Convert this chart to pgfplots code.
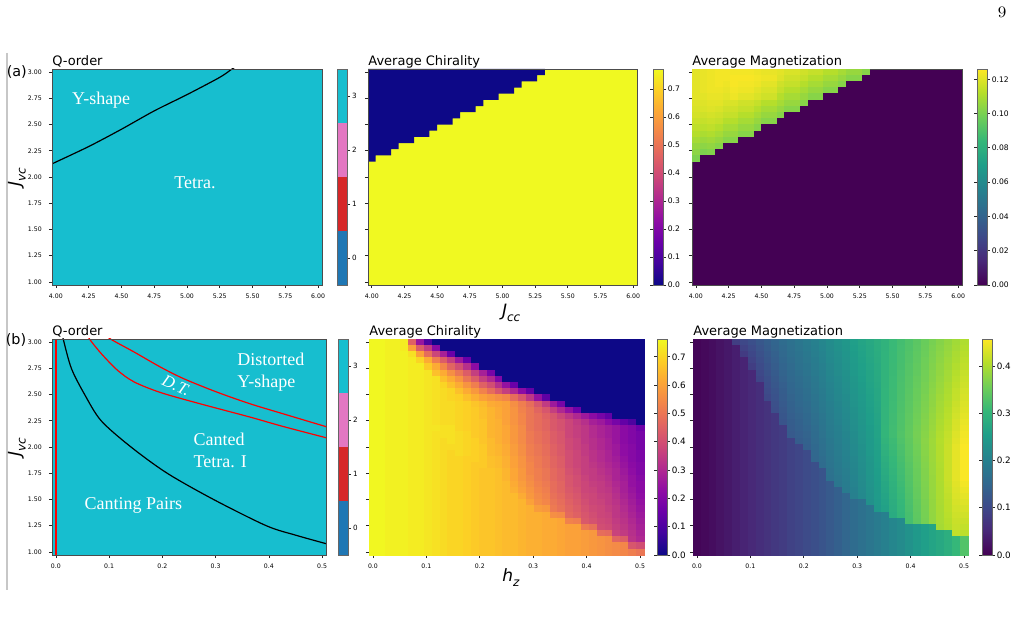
\documentclass[border=0pt]{standalone}
\usepackage{pgfplots}
\pgfplotsset{compat=1.18}
\usepackage{pgfplotstable}
\usepackage{fontspec}
\newfontfamily\dv{DejaVu Sans}
\newfontfamily\tms{Liberation Serif}

% tab10 colours of the four Q-order classes
\definecolor{qblue}{RGB}{31,119,180}
\definecolor{qred}{RGB}{214,39,40}
\definecolor{qpink}{RGB}{227,119,194}
\definecolor{qcyan}{RGB}{23,190,207}
\definecolor{plasmalo}{RGB}{13,8,135}
\definecolor{plasmahi}{RGB}{240,249,33}
\definecolor{viridislo}{RGB}{68,1,84}

% one grid cell of a heat map (half width / half height set per panel)
\newdimen\cellhw
\newdimen\cellhh
\pgfdeclareplotmark{cell}{%
  \pgfpathrectangle{\pgfqpoint{-\cellhw}{-\cellhh}}{\pgfqpoint{2\cellhw}{2\cellhh}}%
  \pgfusepathqfillstroke}

\tikzset{
  dec1/.style={/pgf/number format/.cd, fixed, fixed zerofill, precision=1},
  dec2/.style={/pgf/number format/.cd, fixed, fixed zerofill, precision=2},
  jlabel/.style={font=\dv\itshape\fontsize{8.5}{9.5}\selectfont},
  ann/.style={text=white, font=\tms\fontsize{9}{11.3}\selectfont, inner sep=0pt},
}

\pgfplotsset{
  colormap={mplviridis}{rgb255=(68,1,84) rgb255=(72,40,120) rgb255=(62,73,137) rgb255=(49,104,142) rgb255=(38,130,142) rgb255=(31,158,137) rgb255=(53,183,121) rgb255=(110,206,88) rgb255=(181,222,43) rgb255=(253,231,37)},
  colormap={mplplasma}{rgb255=(13,8,135) rgb255=(65,4,157) rgb255=(106,0,168) rgb255=(143,13,164) rgb255=(177,42,144) rgb255=(204,71,120) rgb255=(225,100,98) rgb255=(242,132,75) rgb255=(252,166,54) rgb255=(252,206,37) rgb255=(240,249,33)},
  panel/.style={
    scale only axis, height=108pt, anchor=south west,
    enlargelimits=false, axis on top,
    axis line style={draw=black!70, line width=0.35pt},
    tick align=outside, major tick length=1.6pt,
    tick style={draw=black!85, line width=0.35pt},
    xtick pos=left, ytick pos=left,
    tick label style={font=\dv\fontsize{3.1}{3.6}\selectfont},
    xticklabel style={yshift=0.6pt},
    /pgf/number format/assume math mode=true,
    every axis title/.style={font=\dv\fontsize{6.5}{7.5}\selectfont, at={(0,1)}, anchor=base west, inner sep=0pt, yshift=1.6pt},
  },
  cbstyle/.style={
    colorbar,
    colorbar style={
      at={(parent axis.north east)}, anchor=north west,
      width=5pt,
      axis line style={draw=black!60, line width=0.3pt},
      tick align=outside, major tick length=1.5pt,
      tick style={draw=black!85, line width=0.35pt},
      /pgf/number format/assume math mode=true,
      yticklabel style={font=\dv\fontsize{#1}{#1}\selectfont, inner sep=0.7pt},
    },
  },
}

% draws a matrix table as cells: table, last column, x of column 0, column step, value scale
\newcommand\cellplot[5]{%
  \pgfplotsinvokeforeach{0,...,#2}{%
    \addplot[scatter, only marks, mark=cell, line width=0.2pt, point meta=explicit,
      scatter/use mapped color={draw=mapped color, fill=mapped color}]
      table[x expr={#3+##1*#4}, y expr={3-\coordindex*2/34}, meta expr={\thisrowno{##1}/#5}] {#1};
  }%
}

% (a) average magnetization, rows from J_vc = 3 downwards, columns J_cc = 4 ... (x1000)
\pgfplotstableread[header=false]{
121 122 123 124 124 124 124 124 123 122 122 121 119 119 117 115 115 112 112 109 106 106 103
121 122 123 124 124 125 125 125 124 123 123 120 117 117 115 112 112 109 109 106 103 103 0
121 122 123 124 123 125 124 124 123 121 121 117 115 115 112 109 109 106 106 103 0 0 0
121 122 123 123 122 124 123 123 121 119 119 115 112 112 109 106 106 103 103 0 0 0 0
121 121 122 122 121 123 121 121 119 117 117 112 109 109 106 103 103 0 0 0 0 0 0
120 120 121 121 119 119 117 117 115 112 112 109 106 106 103 0 0 0 0 0 0 0 0
119 119 120 119 117 117 115 115 112 109 109 106 103 103 0 0 0 0 0 0 0 0 0
118 117 118 117 115 115 112 112 109 106 106 103 0 0 0 0 0 0 0 0 0 0 0
116 115 116 115 112 112 109 109 106 103 103 0 0 0 0 0 0 0 0 0 0 0 0
114 113 114 112 109 109 106 106 103 0 0 0 0 0 0 0 0 0 0 0 0 0 0
112 110 111 109 106 106 103 103 0 0 0 0 0 0 0 0 0 0 0 0 0 0 0
109 107 108 106 103 103 0 0 0 0 0 0 0 0 0 0 0 0 0 0 0 0 0
106 104 105 103 0 0 0 0 0 0 0 0 0 0 0 0 0 0 0 0 0 0 0
104 101 102 0 0 0 0 0 0 0 0 0 0 0 0 0 0 0 0 0 0 0 0
101 0 0 0 0 0 0 0 0 0 0 0 0 0 0 0 0 0 0 0 0 0 0
}\magA

% (b) average chirality, rows J_vc = 3 ... 1, columns h_z = 0 ... 0.5 (x100)
\pgfplotstableread[header=false]{
76 76 75 75 74 45 25 10 0 0 0 0 0 0 0 0 0 0 0 0 0 0 0 0 0 0 0 0 0 0 0 0 0 0 0
76 76 75 75 74 60 44 35 22 0 0 0 0 0 0 0 0 0 0 0 0 0 0 0 0 0 0 0 0 0 0 0 0 0 0
76 76 75 75 75 72 60 48 38 28 15 0 0 0 0 0 0 0 0 0 0 0 0 0 0 0 0 0 0 0 0 0 0 0 0
76 76 75 75 75 74 70 62 52 44 36 26 15 0 0 0 0 0 0 0 0 0 0 0 0 0 0 0 0 0 0 0 0 0 0
76 76 75 75 75 74 74 68 62 54 46 40 32 22 0 0 0 0 0 0 0 0 0 0 0 0 0 0 0 0 0 0 0 0 0
76 76 75 75 75 74 74 73 66 62 56 50 44 36 28 18 0 0 0 0 0 0 0 0 0 0 0 0 0 0 0 0 0 0 0
76 76 75 75 75 74 74 73 72 66 62 57 50 44 36 30 20 0 0 0 0 0 0 0 0 0 0 0 0 0 0 0 0 0 0
76 76 75 75 75 74 74 73 72 70 66 62 57 52 45 40 32 24 15 0 0 0 0 0 0 0 0 0 0 0 0 0 0 0 0
76 76 75 75 75 74 74 73 72 71 70 66 62 58 53 48 42 36 30 22 14 0 0 0 0 0 0 0 0 0 0 0 0 0 0
76 76 75 75 75 74 74 73 72 71 70 69 66 63 60 58 56 54 48 42 34 24 13 0 0 0 0 0 0 0 0 0 0 0 0
76 76 75 75 75 74 74 73 72 71 71 70 69 67 65 62 61 60 56 52 48 42 35 26 18 0 0 0 0 0 0 0 0 0 0
76 76 75 75 75 74 74 73 72 71 71 70 69 68 66 64 62 60 57 53 50 46 42 36 30 24 16 0 0 0 0 0 0 0 0
76 76 75 75 75 74 74 73 72 71 71 70 69 68 66 64 62 60 57 54 50 48 45 42 38 34 30 26 22 18 14 0 0 0 0
76 76 75 75 75 74 74 73 72 71 71 70 69 68 67 64 63 60 57 54 50 48 46 43 41 38 35 32 28 26 22 18 14 10 0
76 76 75 75 75 74 74 73 73 72 72 70 69 68 67 64 63 61 58 55 50 48 46 43 41 38 36 34 31 29 27 25 22 20 16
76 76 75 75 75 74 74 73 72 72 72 71 70 68 67 64 63 61 58 55 51 49 47 44 42 38 36 34 31 29 27 25 22 20 18
76 76 75 75 75 74 74 73 72 71 72 71 70 69 67 65 63 61 58 55 51 49 47 44 42 39 37 34 32 30 28 25 22 20 18
76 76 75 75 75 74 74 73 72 71 71 71 70 69 68 65 64 62 59 56 52 50 48 45 43 39 37 35 32 30 28 26 23 21 18
76 76 75 75 75 74 74 73 72 71 70 71 70 69 68 65 64 62 59 56 52 50 48 45 43 40 38 35 33 31 29 26 23 21 19
76 76 75 75 75 74 74 73 72 71 70 70 69 69 68 66 65 63 60 57 53 51 49 46 44 40 38 36 33 31 29 27 24 21 19
76 76 75 75 75 74 74 73 72 71 70 70 69 68 68 66 65 63 60 57 54 51 49 46 44 40 38 36 34 32 30 28 25 22 20
76 76 75 75 75 74 74 73 72 71 70 70 69 68 67 67 66 64 61 58 54 52 50 47 45 41 39 36 35 33 31 29 26 23 20
76 76 75 75 75 74 74 73 72 71 70 70 69 68 67 67 66 64 61 58 55 52 50 47 45 42 40 37 35 34 32 29 27 24 21
76 76 75 75 75 74 74 73 72 71 70 70 69 68 67 67 66 65 62 59 56 53 51 48 46 42 40 38 36 35 33 30 28 24 22
76 76 75 75 75 74 74 73 72 71 70 70 69 68 67 67 66 65 63 60 57 54 52 48 46 43 41 38 37 35 34 31 28 25 22
76 76 75 75 75 74 74 73 72 71 70 70 69 68 67 67 66 65 65 62 58 55 53 49 47 44 42 39 38 36 35 32 29 26 23
76 76 75 75 75 74 74 73 72 71 70 70 69 68 67 67 66 65 65 64 60 56 54 50 48 45 43 40 38 37 35 33 30 27 24
76 76 75 75 75 74 74 73 72 71 70 70 69 68 67 67 66 65 65 64 63 59 58 51 49 46 44 41 39 38 36 34 31 28 25
76 76 75 75 75 74 74 73 72 71 70 70 69 68 67 67 66 65 65 64 63 63 62 56 55 47 45 42 40 38 37 34 32 29 26
76 76 75 75 75 74 74 73 72 71 70 70 69 68 67 67 66 65 65 64 63 63 62 62 61 53 52 43 41 39 38 35 33 30 27
76 76 75 75 75 74 74 73 72 71 70 70 69 68 67 67 66 65 65 64 63 63 62 62 61 60 60 51 49 40 39 36 34 31 28
76 76 75 75 75 74 74 73 72 71 70 70 69 68 67 67 66 65 65 64 63 63 62 62 61 60 60 59 58 48 47 37 35 32 29
76 76 75 75 75 74 74 73 72 71 70 70 69 68 67 67 66 65 65 64 63 63 62 62 61 60 60 59 58 57 56 46 44 33 30
76 76 75 75 75 74 74 73 72 71 70 70 69 68 67 67 66 65 65 64 63 63 62 62 61 60 60 59 58 57 56 55 54 42 40
76 76 75 75 75 74 74 73 72 71 70 70 69 68 67 67 66 65 65 64 63 63 62 62 61 60 60 59 58 57 56 55 54 52 50
}\chirB

% (b) average magnetization, same grid (x1000)
\pgfplotstableread[header=false]{
5 10 16 23 30 85 100 112 124 136 148 160 170 180 190 200 210 222 232 242 255 265 275 285 295 308 318 328 338 350 362 372 382 392 402
5 10 16 23 30 38 90 105 119 132 145 157 167 177 187 197 208 220 230 240 253 263 273 284 295 308 319 329 339 352 364 374 384 395 405
5 10 16 23 30 38 80 99 114 128 141 154 165 174 184 195 205 217 227 238 251 261 272 282 296 309 320 330 341 353 366 376 386 398 408
5 10 16 23 30 38 45 92 110 124 138 151 162 172 181 192 203 215 225 235 248 259 270 281 296 309 320 331 342 355 367 378 389 400 411
5 10 16 23 30 38 45 85 105 120 134 148 159 169 178 189 200 213 223 233 246 257 268 279 296 310 321 333 344 356 369 380 391 403 414
5 10 16 23 30 38 45 52 100 116 131 145 157 166 175 187 198 210 221 231 244 255 266 278 297 310 322 334 345 358 371 382 393 406 418
5 10 16 23 30 38 45 52 95 112 127 142 154 163 172 184 195 208 218 229 242 253 265 276 297 311 323 335 347 359 372 384 395 409 421
5 10 16 23 30 38 45 52 60 108 124 138 151 160 169 182 193 205 216 227 240 251 263 275 297 311 324 336 348 361 374 386 398 412 424
5 10 16 23 30 38 45 52 60 104 120 135 149 157 166 179 190 203 214 225 237 249 261 273 298 312 324 337 350 362 376 388 400 415 427
5 10 16 23 30 38 45 52 60 100 117 132 146 155 164 176 188 201 212 222 235 247 259 272 298 312 325 338 351 364 378 391 402 417 430
5 10 16 23 30 38 45 52 60 67 113 129 143 152 161 174 185 198 209 220 233 245 258 270 298 313 326 339 353 366 379 393 404 420 433
5 10 16 23 30 38 45 52 60 67 110 126 141 149 158 171 183 196 207 218 231 243 256 269 299 313 327 340 354 367 381 395 407 423 436
5 10 16 23 30 38 45 52 60 67 75 123 138 146 155 168 180 194 205 216 229 241 254 267 299 314 328 342 356 369 383 397 409 426 439
5 10 16 23 30 38 45 52 60 67 75 120 135 143 152 166 178 191 203 214 226 239 253 266 299 314 328 343 357 370 385 399 411 429 443
5 10 16 23 30 38 45 52 60 67 75 82 133 141 149 163 175 189 200 212 224 237 251 264 300 315 329 344 359 372 386 401 413 431 446
5 10 16 23 30 38 45 52 60 67 75 82 130 138 146 161 173 187 198 209 222 235 249 263 300 315 330 345 360 373 388 403 416 434 449
5 10 16 23 30 38 45 52 60 67 75 82 90 135 143 158 170 184 196 207 220 233 247 261 297 312 328 343 359 375 390 405 418 437 452
5 10 16 23 30 38 45 52 60 67 75 82 90 97 140 155 168 182 194 205 218 231 246 260 293 310 325 341 357 374 389 404 420 440 455
5 10 16 23 30 38 45 52 60 67 75 82 90 97 105 153 165 179 191 203 215 229 244 258 290 307 323 340 356 373 388 404 420 440 455
5 10 16 23 30 38 45 52 60 67 75 82 90 97 105 150 163 177 189 201 213 227 242 257 287 304 321 338 354 372 388 403 420 440 455
5 10 16 23 30 38 45 52 60 67 75 82 90 97 105 112 160 175 187 199 211 225 240 255 283 302 318 336 353 370 387 402 420 440 455
5 10 16 23 30 38 45 52 60 67 75 82 90 97 105 112 120 172 185 196 209 223 239 254 280 299 316 334 351 369 386 401 420 440 455
5 10 16 23 30 38 45 52 60 67 75 82 90 97 105 112 120 170 182 194 207 221 237 252 277 296 314 332 350 368 385 401 420 440 455
5 10 16 23 30 38 45 52 60 67 75 82 90 97 105 112 120 130 180 192 204 219 235 251 273 293 312 330 349 367 385 400 418 437 450
5 10 16 23 30 38 45 52 60 67 75 82 90 97 105 112 120 130 140 190 202 217 233 249 270 291 309 329 347 366 384 399 416 434 445
5 10 16 23 30 38 45 52 60 67 75 82 90 97 105 112 120 130 140 150 200 215 232 248 267 288 307 327 346 365 383 399 414 432 440
5 10 16 23 30 38 45 52 60 67 75 82 90 97 105 112 120 130 140 150 160 170 230 246 263 285 305 325 344 363 382 398 412 429 435
5 10 16 23 30 38 45 52 60 67 75 82 90 97 105 112 120 130 140 150 160 170 180 245 260 283 302 323 343 362 382 397 411 426 430
5 10 16 23 30 38 45 52 60 67 75 82 90 97 105 112 120 130 140 150 160 170 180 190 200 280 300 321 341 361 381 396 409 423 425
5 10 16 23 30 38 45 52 60 67 75 82 90 97 105 112 120 130 140 150 160 170 180 190 200 210 220 320 340 360 380 396 407 420 420
5 10 16 23 30 38 45 52 60 67 75 82 90 97 105 112 120 130 140 150 160 170 180 190 200 210 220 232 245 255 265 395 405 418 415
5 10 16 23 30 38 45 52 60 67 75 82 90 97 105 112 120 130 140 150 160 170 180 190 200 210 220 232 245 255 265 275 287 415 410
5 10 16 23 30 38 45 52 60 67 75 82 90 97 105 112 120 130 140 150 160 170 180 190 200 210 220 232 245 255 265 275 287 305 330
5 10 16 23 30 38 45 52 60 67 75 82 90 97 105 112 120 130 140 150 160 170 180 190 200 210 220 232 245 255 265 275 287 305 330
5 10 16 23 30 38 45 52 60 67 75 82 90 97 105 112 120 130 140 150 160 170 180 190 200 210 220 232 245 255 265 275 287 305 330
}\magB

\begin{document}
\begin{tikzpicture}
\useasboundingbox (0,0) rectangle (508.5pt,309.5pt);

% page furniture
\node[font=\fontsize{8}{9}\selectfont] at (501pt,303.5pt) {9};
\draw[black!22, line width=0.6pt] (3.5pt,283pt) -- (3.5pt,14.5pt);
\node[font=\dv\fontsize{7.2}{8}\selectfont] at (8.4pt,273.6pt) {(a)};
\node[font=\dv\fontsize{7.2}{8}\selectfont] at (8pt,139.6pt) {(b)};

% ---------------- row (a) ----------------
\begin{axis}[panel, at={(26pt,167pt)}, width=135pt,
  xmin=3.9706, xmax=6.0294, ymin=0.9706, ymax=3.0294,
  xtick={4,4.25,...,6}, ytick={1,1.25,...,3},
  xticklabel style={dec2}, yticklabel style={dec2},
  title={Q-order},
  ylabel={J\raisebox{-0.3em}{\fontsize{6}{6}\selectfont vc}},
  ylabel style={jlabel, at={(axis description cs:-0.13,0.5)}, anchor=center}]
\addplot[fill=qcyan, draw=none] coordinates {(3.9706,0.9706) (6.0294,0.9706) (6.0294,3.0294) (3.9706,3.0294)};
\addplot[black, line width=0.6pt, smooth] coordinates {(3.94,2.105) (3.9706,2.125) (4.25,2.29) (4.50,2.455) (4.75,2.63) (5.00,2.785) (5.25,2.95) (5.344,3.03) (5.40,3.07)};
\node[ann] at (axis cs:4.346,2.736) {Y-shape};
\node[ann] at (axis cs:5.061,1.949) {Tetra.};
\end{axis}

\begin{axis}[panel, at={(168.5pt,167pt)}, width=5pt,
  xmin=0, xmax=1, ymin=-0.5, ymax=3.5, xtick=\empty, ytick={0,1,2,3},
  ytick pos=right, yticklabel pos=right,
  axis line style={draw=black!60, line width=0.3pt},
  yticklabel style={font=\dv\fontsize{3.6}{4}\selectfont, inner sep=0.7pt}]
\addplot[fill=qblue, draw=none] coordinates {(0,-0.5) (1,-0.5) (1,0.5) (0,0.5)};
\addplot[fill=qred, draw=none] coordinates {(0,0.5) (1,0.5) (1,1.5) (0,1.5)};
\addplot[fill=qpink, draw=none] coordinates {(0,1.5) (1,1.5) (1,2.5) (0,2.5)};
\addplot[fill=qcyan, draw=none] coordinates {(0,2.5) (1,2.5) (1,3.5) (0,3.5)};
\end{axis}

\pgfplotsset{colorbar shift/.style={xshift=8pt}}
\begin{axis}[panel, at={(184pt,167pt)}, width=134.5pt,
  xmin=3.9706, xmax=6.0294, ymin=0.9706, ymax=3.0294,
  xtick={4,4.25,...,6}, ytick={1,1.25,...,3}, yticklabels={},
  xticklabel style={dec2},
  title={Average Chirality},
  xlabel={J\raisebox{-0.3em}{\fontsize{6}{6}\selectfont cc}},
  xlabel style={jlabel, at={(axis description cs:0.532,-0.128)}, anchor=center},
  colormap name=mplplasma, point meta min=0, point meta max=0.771,
  cbstyle=3.8,
  colorbar style={ytick={0,0.1,0.2,0.3,0.4,0.5,0.6,0.7}, yticklabel style={dec1}}]
\addplot[fill=plasmahi, draw=none] coordinates {(3.9706,0.9706) (6.0294,0.9706) (6.0294,3.0294) (3.9706,3.0294)};
% chiral-free region above the staircase boundary
\addplot[fill=plasmalo, draw=none] coordinates {
  (3.9706,3.0294) (3.9706,2.1471) (4.0294,2.1471) (4.0294,2.2059) (4.1471,2.2059)
  (4.1471,2.2647) (4.2059,2.2647) (4.2059,2.3235) (4.3235,2.3235) (4.3235,2.3824)
  (4.4412,2.3824) (4.4412,2.4412) (4.5,2.4412) (4.5,2.5) (4.6176,2.5)
  (4.6176,2.5588) (4.6765,2.5588) (4.6765,2.6176) (4.7941,2.6176) (4.7941,2.6765)
  (4.8529,2.6765) (4.8529,2.7353) (4.9706,2.7353) (4.9706,2.7941) (5.0882,2.7941)
  (5.0882,2.8529) (5.1471,2.8529) (5.1471,2.9118) (5.2647,2.9118) (5.2647,2.9706)
  (5.3235,2.9706) (5.3235,3.0294)};
\end{axis}

\pgfplotsset{colorbar shift/.style={xshift=7.5pt}}
\setlength\cellhw{1.929pt}\setlength\cellhh{1.543pt}
\begin{axis}[panel, at={(346pt,167pt)}, width=135pt,
  xmin=3.9706, xmax=6.0294, ymin=0.9706, ymax=3.0294,
  xtick={4,4.25,...,6}, ytick={1,1.25,...,3}, yticklabels={},
  xticklabel style={dec2},
  title={Average Magnetization},
  colormap name=mplviridis, point meta min=0, point meta max=0.126,
  cbstyle=3.8,
  colorbar style={ytick={0,0.02,0.04,0.06,0.08,0.10,0.12}, yticklabel style={dec2}}]
\addplot[fill=viridislo, draw=none] coordinates {(3.9706,0.9706) (6.0294,0.9706) (6.0294,3.0294) (3.9706,3.0294)};
\cellplot{\magA}{22}{4}{0.0588235}{1000}
\end{axis}

% ---------------- row (b) ----------------
\begin{axis}[panel, at={(26pt,32pt)}, width=137pt,
  xmin=-0.00735, xmax=0.50735, ymin=0.9706, ymax=3.0294,
  xtick={0,0.1,0.2,0.3,0.4,0.5}, ytick={1,1.25,...,3},
  xticklabel style={dec1}, yticklabel style={dec2},
  title={Q-order},
  ylabel={J\raisebox{-0.3em}{\fontsize{6}{6}\selectfont vc}},
  ylabel style={jlabel, at={(axis description cs:-0.128,0.5)}, anchor=center}]
\addplot[fill=qcyan, draw=none] coordinates {(-0.00735,0.9706) (0.50735,0.9706) (0.50735,3.0294) (-0.00735,3.0294)};
\addplot[red, line width=0.6pt] coordinates {(0,0.9706) (0,3.0294)};
\addplot[black, line width=0.6pt, smooth] coordinates {(0.010,3.12) (0.0137,3.03) (0.029,2.75) (0.054,2.5) (0.085,2.25) (0.141,2.0) (0.209,1.75) (0.296,1.5) (0.395,1.25) (0.45,1.16) (0.51,1.075)};
\addplot[red, line width=0.6pt, smooth] coordinates {(0.095,3.065) (0.1035,3.026) (0.147,2.905) (0.1963,2.762) (0.240,2.651) (0.302,2.524) (0.364,2.413) (0.4257,2.318) (0.51,2.19)};
\addplot[red, line width=0.6pt, smooth] coordinates {(0.058,3.09) (0.063,3.03) (0.0854,2.889) (0.116,2.73) (0.147,2.62) (0.196,2.52) (0.27,2.413) (0.364,2.286) (0.4257,2.197) (0.51,2.085)};
\node[ann, anchor=west, align=left] at (axis cs:0.340,2.715) {Distorted\\Y-shape};
\node[ann, font=\tms\itshape\fontsize{8.5}{10}\selectfont, rotate=-25] at (axis cs:0.226,2.585) {D.T.};
\node[ann, anchor=west, align=left] at (axis cs:0.258,1.966) {Canted\\Tetra. I};
\node[ann] at (axis cs:0.1454,1.447) {Canting Pairs};
\end{axis}

\begin{axis}[panel, at={(169pt,32pt)}, width=5pt,
  xmin=0, xmax=1, ymin=-0.5, ymax=3.5, xtick=\empty, ytick={0,1,2,3},
  ytick pos=right, yticklabel pos=right,
  axis line style={draw=black!60, line width=0.3pt},
  yticklabel style={font=\dv\fontsize{3.6}{4}\selectfont, inner sep=0.7pt}]
\addplot[fill=qblue, draw=none] coordinates {(0,-0.5) (1,-0.5) (1,0.5) (0,0.5)};
\addplot[fill=qred, draw=none] coordinates {(0,0.5) (1,0.5) (1,1.5) (0,1.5)};
\addplot[fill=qpink, draw=none] coordinates {(0,1.5) (1,1.5) (1,2.5) (0,2.5)};
\addplot[fill=qcyan, draw=none] coordinates {(0,2.5) (1,2.5) (1,3.5) (0,3.5)};
\end{axis}

\pgfplotsset{colorbar shift/.style={xshift=6.5pt}}
\setlength\cellhw{1.964pt}\setlength\cellhh{1.543pt}
\begin{axis}[panel, at={(184.5pt,32pt)}, width=137.5pt,
  xmin=-0.00735, xmax=0.50735, ymin=0.9706, ymax=3.0294,
  xtick={0,0.1,0.2,0.3,0.4,0.5}, ytick={1,1.25,...,3}, yticklabels={},
  xticklabel style={dec1},
  title={Average Chirality},
  xlabel={h\raisebox{-0.3em}{\fontsize{6}{6}\selectfont z}},
  xlabel style={jlabel, at={(axis description cs:0.516,-0.106)}, anchor=center},
  colormap name=mplplasma, point meta min=0, point meta max=0.763,
  cbstyle=4.4,
  colorbar style={ytick={0,0.1,0.2,0.3,0.4,0.5,0.6,0.7}, yticklabel style={dec1}}]
\cellplot{\chirB}{34}{0}{0.0147059}{100}
\end{axis}

\pgfplotsset{colorbar shift/.style={xshift=7pt}}
\begin{axis}[panel, at={(346.5pt,32pt)}, width=137.5pt,
  xmin=-0.00735, xmax=0.50735, ymin=0.9706, ymax=3.0294,
  xtick={0,0.1,0.2,0.3,0.4,0.5}, ytick={1,1.25,...,3}, yticklabels={},
  xticklabel style={dec1},
  title={Average Magnetization},
  colormap name=mplviridis, point meta min=0, point meta max=0.457,
  cbstyle=4.4,
  colorbar style={ytick={0,0.1,0.2,0.3,0.4}, yticklabel style={dec1}}]
\cellplot{\magB}{34}{0}{0.0147059}{1000}
\end{axis}
\end{tikzpicture}
\end{document}
